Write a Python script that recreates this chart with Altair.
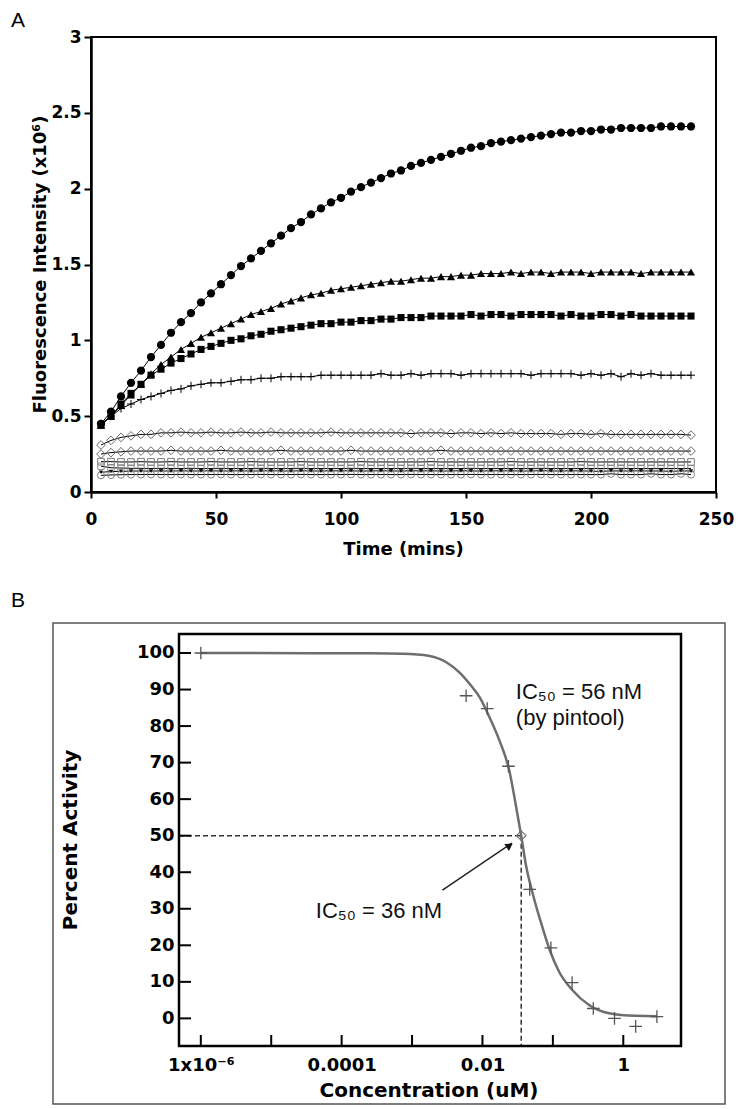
import altair as alt
import pandas as pd

# ------------------------------------------------------------------
# Panel A data: fluorescence time courses (x10^6)
# ------------------------------------------------------------------
time_min = [4, 8, 12, 16, 20, 24, 28, 32, 36, 40,
            44, 48, 52, 56, 60, 64, 68, 72, 76, 80,
            84, 88, 92, 96, 100, 104, 108, 112, 116, 120,
            124, 128, 132, 136, 140, 144, 148, 152, 156, 160,
            164, 168, 172, 176, 180, 184, 188, 192, 196, 200,
            204, 208, 212, 216, 220, 224, 228, 232, 236, 240]

filled_circle = [0.45, 0.53, 0.63, 0.72, 0.80, 0.89, 0.97, 1.05, 1.12, 1.18,
                 1.25, 1.31, 1.37, 1.43, 1.49, 1.54, 1.59, 1.64, 1.69, 1.74,
                 1.78, 1.83, 1.87, 1.91, 1.94, 1.98, 2.01, 2.04, 2.07, 2.10,
                 2.12, 2.15, 2.17, 2.19, 2.21, 2.23, 2.25, 2.27, 2.28, 2.30,
                 2.31, 2.32, 2.33, 2.34, 2.35, 2.36, 2.37, 2.37, 2.38, 2.38,
                 2.39, 2.39, 2.40, 2.40, 2.40, 2.40, 2.41, 2.41, 2.41, 2.41]

filled_triangle = [0.44, 0.50, 0.57, 0.64, 0.71, 0.78, 0.84, 0.89, 0.94, 0.98,
                   1.02, 1.05, 1.08, 1.11, 1.14, 1.17, 1.19, 1.21, 1.24, 1.26,
                   1.28, 1.30, 1.31, 1.33, 1.34, 1.35, 1.36, 1.37, 1.38, 1.39,
                   1.39, 1.40, 1.41, 1.41, 1.42, 1.42, 1.43, 1.43, 1.44, 1.44,
                   1.44, 1.45, 1.44, 1.45, 1.45, 1.44, 1.45, 1.45, 1.45, 1.44,
                   1.45, 1.45, 1.45, 1.45, 1.44, 1.45, 1.45, 1.45, 1.45, 1.45]

filled_square = [0.44, 0.50, 0.58, 0.65, 0.71, 0.77, 0.81, 0.85, 0.88, 0.91,
                 0.94, 0.96, 0.98, 1.00, 1.01, 1.03, 1.04, 1.06, 1.07, 1.08,
                 1.09, 1.10, 1.11, 1.11, 1.12, 1.12, 1.13, 1.13, 1.14, 1.14,
                 1.15, 1.15, 1.15, 1.16, 1.16, 1.16, 1.16, 1.17, 1.16, 1.17,
                 1.17, 1.16, 1.17, 1.17, 1.17, 1.17, 1.16, 1.17, 1.16, 1.16,
                 1.17, 1.17, 1.16, 1.17, 1.16, 1.16, 1.16, 1.16, 1.16, 1.16]

plus_marker = [0.45, 0.50, 0.55, 0.58, 0.61, 0.63, 0.65, 0.67, 0.68, 0.70,
               0.71, 0.72, 0.72, 0.73, 0.74, 0.74, 0.75, 0.75, 0.76, 0.76,
               0.76, 0.76, 0.77, 0.77, 0.77, 0.77, 0.77, 0.77, 0.78, 0.77,
               0.77, 0.78, 0.77, 0.78, 0.78, 0.78, 0.77, 0.78, 0.78, 0.78,
               0.78, 0.78, 0.78, 0.77, 0.78, 0.78, 0.78, 0.78, 0.77, 0.78,
               0.77, 0.78, 0.76, 0.78, 0.77, 0.78, 0.77, 0.77, 0.77, 0.77]

open_diamond_hi = [0.31, 0.34, 0.36, 0.37, 0.38, 0.38, 0.39, 0.39, 0.395, 0.39,
                   0.39, 0.395, 0.39, 0.39, 0.395, 0.39, 0.39, 0.395, 0.39, 0.39,
                   0.39, 0.39, 0.39, 0.395, 0.39, 0.39, 0.39, 0.39, 0.39, 0.39,
                   0.39, 0.385, 0.39, 0.39, 0.39, 0.385, 0.39, 0.39, 0.385, 0.39,
                   0.385, 0.39, 0.385, 0.385, 0.385, 0.385, 0.38, 0.385, 0.385, 0.38,
                   0.385, 0.38, 0.38, 0.38, 0.38, 0.38, 0.38, 0.38, 0.38, 0.375]

open_diamond_lo = [0.25, 0.26, 0.265, 0.27, 0.27, 0.27, 0.27, 0.275, 0.27, 0.27,
                   0.27, 0.27, 0.275, 0.27, 0.27, 0.27, 0.27, 0.27, 0.275, 0.27,
                   0.27, 0.27, 0.27, 0.27, 0.27, 0.275, 0.27, 0.27, 0.27, 0.27,
                   0.27, 0.27, 0.27, 0.27, 0.275, 0.27, 0.27, 0.27, 0.27, 0.27,
                   0.27, 0.27, 0.27, 0.27, 0.27, 0.27, 0.27, 0.27, 0.27, 0.27,
                   0.27, 0.27, 0.27, 0.27, 0.27, 0.27, 0.27, 0.27, 0.27, 0.27]

open_square_a = [0.20, 0.20, 0.198, 0.198, 0.20, 0.198, 0.198, 0.20, 0.198, 0.198,
                 0.198, 0.20, 0.198, 0.198, 0.198, 0.20, 0.198, 0.198, 0.198, 0.198,
                 0.20, 0.198, 0.198, 0.198, 0.198, 0.198, 0.20, 0.198, 0.198, 0.198,
                 0.198, 0.198, 0.198, 0.20, 0.198, 0.198, 0.198, 0.198, 0.198, 0.198,
                 0.198, 0.20, 0.198, 0.198, 0.198, 0.198, 0.198, 0.198, 0.20, 0.198,
                 0.198, 0.198, 0.198, 0.198, 0.198, 0.198, 0.198, 0.198, 0.198, 0.198]

open_square_b = [0.17, 0.16, 0.158, 0.156, 0.156, 0.155, 0.156, 0.155, 0.155, 0.156,
                 0.155, 0.155, 0.156, 0.155, 0.155, 0.155, 0.156, 0.155, 0.155, 0.155,
                 0.156, 0.155, 0.155, 0.155, 0.155, 0.156, 0.155, 0.155, 0.155, 0.155,
                 0.155, 0.156, 0.155, 0.155, 0.155, 0.155, 0.155, 0.156, 0.155, 0.155,
                 0.155, 0.155, 0.155, 0.155, 0.156, 0.155, 0.155, 0.155, 0.155, 0.155,
                 0.155, 0.155, 0.156, 0.155, 0.155, 0.155, 0.155, 0.155, 0.155, 0.155]

dark_trace = [0.13, 0.135, 0.136, 0.138, 0.138, 0.138, 0.139, 0.138, 0.14, 0.138,
              0.139, 0.14, 0.138, 0.139, 0.14, 0.138, 0.139, 0.14, 0.139, 0.138,
              0.14, 0.139, 0.138, 0.14, 0.139, 0.14, 0.138, 0.139, 0.14, 0.139,
              0.138, 0.14, 0.139, 0.14, 0.138, 0.139, 0.14, 0.139, 0.138, 0.14,
              0.139, 0.14, 0.138, 0.139, 0.14, 0.139, 0.138, 0.14, 0.139, 0.138,
              0.135, 0.14, 0.138, 0.139, 0.14, 0.138, 0.139, 0.135, 0.14, 0.138]

open_circle = [0.11, 0.112, 0.114, 0.115, 0.115, 0.116, 0.115, 0.115, 0.116, 0.115,
               0.115, 0.115, 0.116, 0.115, 0.115, 0.115, 0.116, 0.115, 0.115, 0.115,
               0.116, 0.115, 0.115, 0.115, 0.115, 0.116, 0.115, 0.115, 0.115, 0.115,
               0.115, 0.116, 0.115, 0.115, 0.115, 0.115, 0.115, 0.116, 0.115, 0.115,
               0.115, 0.115, 0.115, 0.115, 0.116, 0.115, 0.115, 0.115, 0.115, 0.115,
               0.115, 0.12, 0.115, 0.115, 0.115, 0.12, 0.115, 0.115, 0.12, 0.115]

a_x_ticks = [0, 50, 100, 150, 200, 250]
a_y_ticks = [0, 0.5, 1, 1.5, 2, 2.5, 3]
a_x_title = "Time (mins)"
a_y_title = "Fluorescence Intensity (x10\u2076)"

# ------------------------------------------------------------------
# Panel B data: dose response
# ------------------------------------------------------------------
b_conc = [1e-6, 0.00586, 0.0117, 0.0234, 0.0469, 0.0938, 0.1875, 0.375, 0.75, 1.5, 3.0]
b_pct = [100, 88.3, 84.8, 69.0, 35.3, 19.3, 9.8, 2.7, 0.0, -2.2, 0.5]

fit_conc = [1e-6, 2.5e-4, 7.4e-4, 1.78e-3, 3.1e-3, 4.7e-3, 6.6e-3, 9.1e-3, 0.0126, 0.0174,
            0.024, 0.030, 0.0355, 0.0417, 0.0513, 0.0676, 0.0891, 0.123, 0.19, 0.33,
            0.63, 1.5, 3.0]
fit_pct = [100, 99.9, 99.8, 99.2, 97.4, 94.7, 91.5, 87.9, 82.4, 76.1,
           67.9, 58.0, 50.0, 41.7, 34.4, 26.3, 19.0, 12.7, 7.7, 3.6,
           1.4, 0.7, 0.6]

ic50_conc = [0.0355]
ic50_pct = [50]

b_x_domain = [4.9e-7, 6.6]
b_y_domain = [-7.56, 105.2]
b_x_tick_vals = [1e-6, 1e-5, 1e-4, 1e-3, 1e-2, 1e-1, 1]
b_x_label_vals = [1e-6, 1e-4, 1e-2, 1]
b_x_label_text = ["1x10\u207b\u2076", "0.0001", "0.01", "1"]
b_y_tick_vals = [0, 10, 20, 30, 40, 50, 60, 70, 80, 90, 100]
b_x_title = "Concentration (uM)"
b_y_title = "Percent Activity"

annot_text = ["IC\u2085\u2080 = 56 nM", "(by pintool)", "IC\u2085\u2080 = 36 nM"]
annot_conc = [0.0298, 0.0298, 4.3e-5]
annot_pct = [87.5, 80.2, 27.4]

arrow_conc = [0.0027, 0.0262]
arrow_pct = [35.1, 48.0]
arrow_head_conc = [0.0243]
arrow_head_pct = [47.3]

BOLD = "DejaVu Sans"


def label_mark(text, **kw):
    return alt.Chart(pd.DataFrame({"label": [text]})).mark_text(**kw).encode(text="label:N")


# ------------------------------------------------------------------
# Panel A chart
# ------------------------------------------------------------------
WA, HA = 625, 455
series_values = {
    "filled_circle": filled_circle,
    "filled_triangle": filled_triangle,
    "filled_square": filled_square,
    "plus_marker": plus_marker,
    "open_diamond_hi": open_diamond_hi,
    "open_diamond_lo": open_diamond_lo,
    "open_square_a": open_square_a,
    "open_square_b": open_square_b,
    "dark_trace": dark_trace,
    "open_circle": open_circle,
}
rows = []
for name, vals in series_values.items():
    for t, v in zip(time_min, vals):
        rows.append({"series": name, "time": t, "value": v})
dfA = pd.DataFrame(rows)

xA = alt.X("time:Q", scale=alt.Scale(domain=[0, 250], nice=False),
           axis=alt.Axis(values=a_x_ticks, title=None,
                         labelFontSize=17, labelPadding=13, tickSize=6, tickWidth=2,
                         domainWidth=2.5))
yA = alt.Y("value:Q", scale=alt.Scale(domain=[0, 3], nice=False),
           axis=alt.Axis(values=a_y_ticks, format="~g", title=None,
                         labelFontSize=17, labelPadding=3, tickSize=7, tickWidth=2,
                         domainWidth=2.5))

a_styles = {
    "open_square_a": dict(shape="square", filled=False, color="#7a7a7a", size=44, strokeWidth=1),
    "open_square_b": dict(shape="square", filled=False, color="#8a8a8a", size=40, strokeWidth=1),
    "open_circle": dict(shape="circle", filled=False, color="#808080", size=50, strokeWidth=1),
    "dark_trace": dict(shape="triangle-down", filled=True, color="#111111", size=18),
    "open_diamond_lo": dict(shape="diamond", filled=False, color="#6a6a6a", size=75, strokeWidth=1),
    "open_diamond_hi": dict(shape="diamond", filled=False, color="#6a6a6a", size=75, strokeWidth=1),
    "plus_marker": dict(shape="M-1,0L1,0M0,-1L0,1", filled=False, color="black", size=64, strokeWidth=1),
    "filled_square": dict(shape="square", filled=True, color="black", size=50),
    "filled_triangle": dict(shape="triangle-up", filled=True, color="black", size=66),
    "filled_circle": dict(shape="circle", filled=True, color="black", size=68),
}

a_layers = [alt.Chart(dfA).mark_line(color="black", strokeWidth=1).encode(
    x=xA, y=yA, detail="series:N")]
for name, st in a_styles.items():
    a_layers.append(alt.Chart(dfA[dfA["series"] == name]).mark_point(opacity=1, **st).encode(x=xA, y=yA))
a_layers.append(label_mark("A", align="left", baseline="alphabetic", font="Liberation Sans",
                           fontSize=21, color="black", x=-80, y=-10))
a_layers.append(label_mark(a_x_title, align="center", baseline="alphabetic", font=BOLD,
                           fontWeight="bold", fontSize=18, color="black", x=WA / 2, y=HA + 63))
a_layers.append(label_mark(a_y_title, align="center", baseline="alphabetic", font=BOLD,
                           fontWeight="bold", fontSize=18, color="black", angle=270,
                           x=-45, y=HA / 2))

panelA = alt.layer(*a_layers).properties(
    width=WA, height=HA, view=alt.ViewBackground(stroke="black", strokeWidth=2))

# ------------------------------------------------------------------
# Panel B chart (plot area shifted right by S inside its group)
# ------------------------------------------------------------------
S = 88
WB, HB = 502, 412

label_expr = ""
for v, s in zip(b_x_label_vals[:-1], b_x_label_text[:-1]):
    label_expr += f"datum.value < {v * 3} ? '{s}' : "
label_expr += f"'{b_x_label_text[-1]}'"

xB = alt.X("conc:Q", scale=alt.Scale(type="log", domain=b_x_domain, nice=False, range=[S, S + WB]),
           axis=alt.Axis(values=b_x_label_vals, labelExpr=label_expr, ticks=False, tickSize=0,
                         domain=False, labelFontSize=18, labelPadding=10, title=None))
yB = alt.Y("pct:Q", scale=alt.Scale(domain=b_y_domain, nice=False, zero=False),
           axis=alt.Axis(values=b_y_tick_vals, ticks=False, tickSize=0, domain=False,
                         labelFontSize=18, labelPadding=5, title=None, offset=-S))

frame = alt.Chart(pd.DataFrame({"k": [0]})).mark_rect(
    filled=False, stroke="#555555", strokeWidth=1.5).encode(
    x=alt.value(S - 126), x2=alt.value(S + 546), y=alt.value(-11), y2=alt.value(470))
border = alt.Chart(pd.DataFrame({"k": [0]})).mark_rect(
    filled=False, stroke="black", strokeWidth=2.5).encode(
    x=alt.value(S), x2=alt.value(S + WB), y=alt.value(0), y2=alt.value(HB))

y_ticks = alt.Chart(pd.DataFrame({"pct": b_y_tick_vals})).mark_rule(
    color="black", strokeWidth=2).encode(y=yB, x=alt.value(S), x2=alt.value(S + 12))
x_ticks = alt.Chart(pd.DataFrame({"conc": b_x_tick_vals})).mark_rule(
    color="black", strokeWidth=2).encode(x=xB, y=alt.value(HB), y2=alt.value(HB - 11))

h_dash = alt.Chart(pd.DataFrame({"conc": [b_x_domain[0], ic50_conc[0]],
                                 "pct": [ic50_pct[0], ic50_pct[0]]})).mark_line(
    color="#333333", strokeWidth=1.5, strokeDash=[5, 3]).encode(x=xB, y=yB)
v_dash = alt.Chart(pd.DataFrame({"conc": [ic50_conc[0], ic50_conc[0]],
                                 "pct": [ic50_pct[0], b_y_domain[0]]})).mark_line(
    color="#333333", strokeWidth=1.5, strokeDash=[5, 3]).encode(x=xB, y=yB)

fit_line = alt.Chart(pd.DataFrame({"conc": fit_conc, "pct": fit_pct})).mark_line(
    color="#6e6e6e", strokeWidth=2.5, interpolate="monotone").encode(x=xB, y=yB)

pts = alt.Chart(pd.DataFrame({"conc": b_conc, "pct": b_pct})).mark_point(
    shape="M-1,0L1,0M0,-1L0,1", filled=False, color="#555555", size=160,
    strokeWidth=1.3, opacity=1).encode(x=xB, y=yB)

ic50_pt = alt.Chart(pd.DataFrame({"conc": ic50_conc, "pct": ic50_pct})).mark_point(
    shape="diamond", filled=False, color="#777777", size=90, strokeWidth=1.2,
    opacity=1).encode(x=xB, y=yB)

arrow = alt.Chart(pd.DataFrame({"conc": arrow_conc, "pct": arrow_pct})).mark_line(
    color="#222222", strokeWidth=1.5).encode(x=xB, y=yB)
arrow_head = alt.Chart(pd.DataFrame({"conc": arrow_head_conc, "pct": arrow_head_pct})).mark_point(
    shape="triangle-up", filled=True, color="#111111", size=70, angle=56,
    opacity=1).encode(x=xB, y=yB)

annots = alt.Chart(pd.DataFrame({"conc": annot_conc, "pct": annot_pct, "label": annot_text})).mark_text(
    align="left", baseline="alphabetic", font="Liberation Sans", fontSize=22,
    color="#111111").encode(x=xB, y=yB, text="label:N")

letterB = label_mark("B", align="left", baseline="alphabetic", font="Liberation Sans",
                     fontSize=21, color="black", x=S - 168, y=-27)
b_xt = label_mark(b_x_title, align="center", baseline="alphabetic", font=BOLD,
                  fontWeight="bold", fontSize=20, color="black", x=S + 250, y=HB + 51)
b_yt = label_mark(b_y_title, align="center", baseline="alphabetic", font=BOLD,
                  fontWeight="bold", fontSize=20, color="black", angle=270,
                  x=S - 102, y=HB / 2)

panelB = alt.layer(frame, h_dash, v_dash, fit_line, pts, ic50_pt, arrow, arrow_head,
                   annots, border, y_ticks, x_ticks, letterB, b_xt, b_yt).properties(
    width=S + WB, height=HB, view=alt.ViewBackground(stroke="transparent", strokeWidth=0))

chart = alt.vconcat(panelA, panelB, spacing=30).properties(
    padding={"left": 2, "top": 1, "right": 2, "bottom": 0}
).configure_axis(
    grid=False, labelFont=BOLD, labelFontWeight="bold", labelColor="black",
    domainColor="black", tickColor="black", labelFlush=False, labelOverlap=False
)

chart.save("out.html", embed_options={"renderer": "svg", "actions": False})
